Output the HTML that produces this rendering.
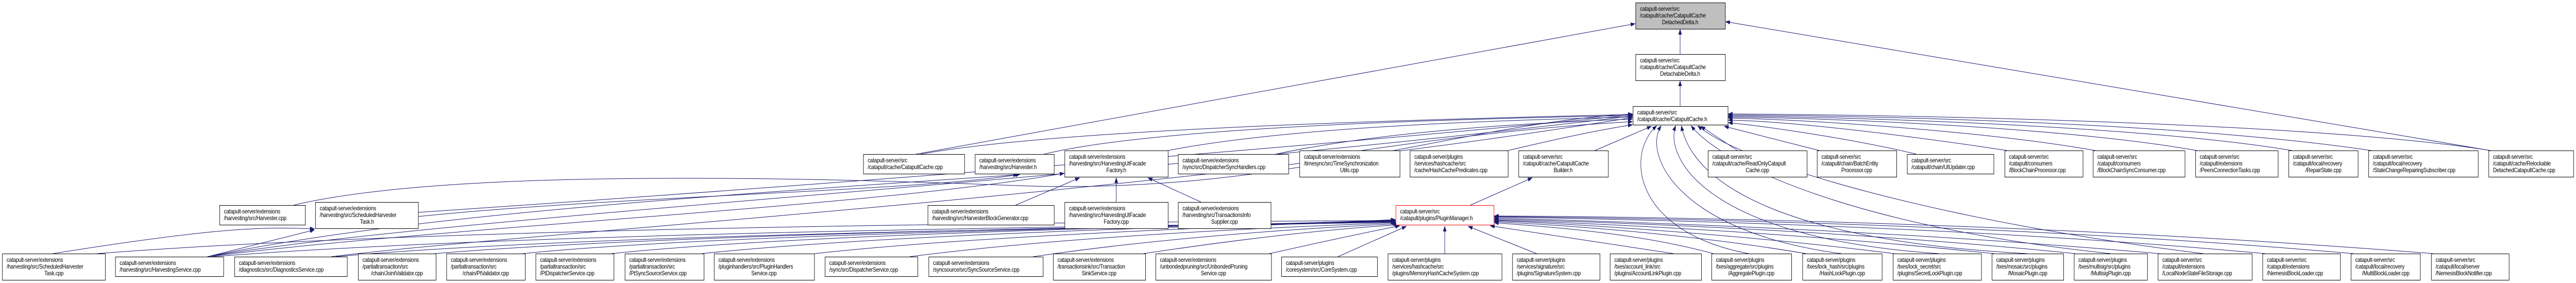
<!DOCTYPE html>
<html><head><meta charset="utf-8"><meta name="viewport" content="width=5834, initial-scale=1"><style>
html,body{margin:0;padding:0;background:#fff;width:100%;height:549px;overflow:hidden;}
svg{display:block;width:100%;height:549px;}
text{font-family:"Liberation Sans",Arial,sans-serif;font-size:11.6px;fill:#000;letter-spacing:-0.3px;}
.c{text-anchor:middle;}
rect{fill:#fff;stroke:#000;stroke-width:1;}
</style></head><body>
<svg viewBox="0 0 5834 549" preserveAspectRatio="none">
<defs><marker id="a" markerWidth="11" markerHeight="8" refX="10" refY="4" orient="auto" markerUnits="userSpaceOnUse"><path d="M0,0 L11,4 L0,8z" fill="#191970"/></marker></defs>
<g fill="none" stroke="#191970" stroke-width="1" marker-end="url(#a)">
<path d="M3805 105 L3805 57"/>
<path d="M3805 206 L3805 157"/>
<path d="M2075 299 L3703 46"/>
<path d="M5640 292 L3908 42"/>
<path d="M2085 299 C2400 250 3200 232 3697 222"/>
<path d="M2365 299 C2600 250 3200 232 3697 224"/>
<path d="M2645 292 C2900 250 3300 235 3697 227"/>
<path d="M2890 299 C3100 260 3400 240 3697 231"/>
<path d="M3084 292 C3300 265 3500 245 3697 236"/>
<path d="M3415 292 C3500 275 3600 255 3697 242"/>
<path d="M3612 292 L3740 245"/>
<path d="M3935 292 L3852 245"/>
<path d="M4120 292 L3905 245"/>
<path d="M4340 299 C4200 270 4000 245 3914 238"/>
<path d="M4545 292 C4300 260 4050 235 3914 233"/>
<path d="M4745 292 C4500 255 4100 232 3914 229"/>
<path d="M4975 292 C4700 250 4200 230 3914 227"/>
<path d="M5190 292 C4900 250 4300 228 3914 225"/>
<path d="M5370 292 C5000 245 4400 226 3914 223"/>
<path d="M5640 292 C5300 245 4500 224 3914 221"/>
<path d="M665 398 C900 350 1400 330 2300 360 C2900 380 3300 240 3697 221"/>
<path d="M947 412 C1500 380 2800 300 3697 223"/>
<path d="M470 498 C1000 420 2500 350 3697 225"/>
<path d="M750 498 C1200 450 2600 380 3697 228"/>
<path d="M3960 492 C3700 450 3680 300 3752 244"/>
<path d="M4170 492 C3800 450 3720 300 3762 244"/>
<path d="M4390 492 C3850 460 3770 300 3795 244"/>
<path d="M4590 492 C3900 460 3820 300 3808 244"/>
<path d="M4780 492 C4200 440 3900 320 3830 244"/>
<path d="M4990 492 C4400 430 3950 320 3845 244"/>
<path d="M120 492 C500 440 600 440 712 444"/>
<path d="M470 498 L712 446"/>
<path d="M947 420 C1400 380 2100 370 2310 338"/>
<path d="M470 498 C900 420 1600 380 2305 339"/>
<path d="M470 498 C1000 440 2000 400 2410 336"/>
<path d="M2300 398 L2445 345"/>
<path d="M2528 392 L2528 345"/>
<path d="M2720 392 L2600 345"/>
<path d="M3330 398 L3470 345"/>
<path d="M220 492 C1000 440 2500 430 3160 428"/>
<path d="M480 498 C1200 450 2500 440 3160 430"/>
<path d="M760 498 C1300 455 2500 442 3160 431"/>
<path d="M985 492 C1500 455 2500 440 3160 430"/>
<path d="M1185 492 C1600 455 2600 440 3160 429"/>
<path d="M1385 492 C1800 455 2600 440 3160 428"/>
<path d="M1590 492 C2000 455 2700 440 3160 427"/>
<path d="M1845 492 C2200 458 2800 440 3160 426"/>
<path d="M2060 498 C2400 460 2850 442 3162 432"/>
<path d="M2340 498 C2600 465 2900 445 3165 434"/>
<path d="M2590 492 C2800 465 3000 445 3168 436"/>
<path d="M2875 492 C3000 468 3100 450 3170 438"/>
<path d="M3030 498 L3185 439"/>
<path d="M3272 492 L3272 439"/>
<path d="M3480 492 L3325 439"/>
<path d="M3790 492 L3375 438"/>
<path d="M3880 492 C3700 450 3500 440 3384 432"/>
<path d="M4090 492 C3800 450 3500 435 3384 430"/>
<path d="M4290 492 C3900 450 3500 432 3384 428"/>
<path d="M4515 492 C4000 445 3500 430 3384 427"/>
<path d="M4700 492 C4100 440 3500 428 3384 425"/>
<path d="M4890 492 C4200 440 3500 426 3384 423"/>
<path d="M5130 492 C4400 435 3600 424 3384 421"/>
<path d="M5330 492 C4500 430 3600 422 3384 420"/>
<path d="M5510 492 C4600 430 3700 420 3384 419"/>
</g>

<rect x="3704.5" y="5.5" width="203" height="51" style="fill:#bfbfbf"/>
<text x="3714" y="21">catapult-server/src</text><text x="3714" y="34">/catapult/cache/CatapultCache</text><text class="c" x="3805" y="47">DetachedDelta.h</text>
<rect x="3704.5" y="105.5" width="203" height="51"/>
<text x="3714" y="121">catapult-server/src</text><text x="3714" y="134">/catapult/cache/CatapultCache</text><text class="c" x="3805" y="147">DetachableDelta.h</text>
<rect x="3698.5" y="206.5" width="215" height="36"/>
<text x="3708" y="222">catapult-server/src</text><text x="3708" y="235">/catapult/cache/CatapultCache.h</text>

<rect x="1955.5" y="299.5" width="229" height="38"/>
<text x="1965" y="315">catapult-server/src</text><text x="1965" y="328">/catapult/cache/CatapultCache.cpp</text>
<rect x="2208.5" y="299.5" width="179" height="38"/>
<text x="2218" y="315">catapult-server/extensions</text><text x="2218" y="328">/harvesting/src/Harvester.h</text>
<rect x="2411.5" y="292.5" width="234" height="51"/>
<text x="2421" y="308">catapult-server/extensions</text><text x="2421" y="321">/harvesting/src/HarvestingUtFacade</text><text class="c" x="2528" y="334">Factory.h</text>
<rect x="2668.5" y="299.5" width="250" height="38"/>
<text x="2678" y="315">catapult-server/extensions</text><text x="2678" y="328">/sync/src/DispatcherSyncHandlers.cpp</text>
<rect x="2943.5" y="292.5" width="227" height="51"/>
<text x="2953" y="308">catapult-server/extensions</text><text x="2953" y="321">/timesync/src/TimeSynchronization</text><text class="c" x="3056" y="334">Utils.cpp</text>
<rect x="3193.5" y="292.5" width="222" height="51"/>
<text x="3203" y="308">catapult-server/plugins</text><text x="3203" y="321">/services/hashcache/src</text><text x="3203" y="334">/cache/HashCachePredicates.cpp</text>
<rect x="3439.5" y="292.5" width="203" height="51"/>
<text x="3449" y="308">catapult-server/src</text><text x="3449" y="321">/catapult/cache/CatapultCache</text><text class="c" x="3540" y="334">Builder.h</text>
<rect x="3868.5" y="292.5" width="224" height="51"/>
<text x="3878" y="308">catapult-server/src</text><text x="3878" y="321">/catapult/cache/ReadOnlyCatapult</text><text class="c" x="3980" y="334">Cache.cpp</text>
<rect x="4115.5" y="292.5" width="180" height="51"/>
<text x="4125" y="308">catapult-server/src</text><text x="4125" y="321">/catapult/chain/BatchEntity</text><text class="c" x="4205" y="334">Processor.cpp</text>
<rect x="4319.5" y="299.5" width="196" height="38"/>
<text x="4329" y="315">catapult-server/src</text><text x="4329" y="328">/catapult/chain/UtUpdater.cpp</text>
<rect x="4540.5" y="292.5" width="177" height="51"/>
<text x="4550" y="308">catapult-server/src</text><text x="4550" y="321">/catapult/consumers</text><text x="4550" y="334">/BlockChainProcessor.cpp</text>
<rect x="4740.5" y="292.5" width="208" height="51"/>
<text x="4750" y="308">catapult-server/src</text><text x="4750" y="321">/catapult/consumers</text><text x="4750" y="334">/BlockChainSyncConsumer.cpp</text>
<rect x="4972.5" y="292.5" width="187" height="51"/>
<text x="4982" y="308">catapult-server/src</text><text x="4982" y="321">/catapult/extensions</text><text x="4982" y="334">/PeersConnectionTasks.cpp</text>
<rect x="5183.5" y="292.5" width="157" height="51"/>
<text x="5193" y="308">catapult-server/src</text><text x="5193" y="321">/catapult/local/recovery</text><text class="c" x="5262" y="334">/RepairState.cpp</text>
<rect x="5364.5" y="292.5" width="248" height="51"/>
<text x="5374" y="308">catapult-server/src</text><text x="5374" y="321">/catapult/local/recovery</text><text x="5374" y="334">/StateChangeRepairingSubscriber.cpp</text>
<rect x="5636.5" y="292.5" width="192" height="51"/>
<text x="5646" y="308">catapult-server/src</text><text x="5646" y="321">/catapult/cache/Relockable</text><text x="5646" y="334">DetachedCatapultCache.cpp</text>

<rect x="497.5" y="398.5" width="194" height="38"/>
<text x="507" y="414">catapult-server/extensions</text><text x="507" y="427">/harvesting/src/Harvester.cpp</text>
<rect x="714.5" y="392.5" width="233" height="51"/>
<text x="724" y="408">catapult-server/extensions</text><text x="724" y="421">/harvesting/src/ScheduledHarvester</text><text class="c" x="831" y="434">Task.h</text>
<rect x="2101.5" y="398.5" width="286" height="38"/>
<text x="2111" y="414">catapult-server/extensions</text><text x="2111" y="427">/harvesting/src/HarvesterBlockGenerator.cpp</text>
<rect x="2411.5" y="392.5" width="234" height="51"/>
<text x="2421" y="408">catapult-server/extensions</text><text x="2421" y="421">/harvesting/src/HarvestingUtFacade</text><text class="c" x="2528" y="434">Factory.cpp</text>
<rect x="2668.5" y="392.5" width="210" height="51"/>
<text x="2678" y="408">catapult-server/extensions</text><text x="2678" y="421">/harvesting/src/TransactionsInfo</text><text class="c" x="2773" y="434">Supplier.cpp</text>
<rect x="3161.5" y="398.5" width="222" height="38" style="stroke:#f00"/>
<text x="3171" y="414">catapult-server/src</text><text x="3171" y="427">/catapult/plugins/PluginManager.h</text>

<rect x="5.5" y="492.5" width="233" height="51"/>
<text x="15" y="508">catapult-server/extensions</text><text x="15" y="521">/harvesting/src/ScheduledHarvester</text><text class="c" x="122" y="534">Task.cpp</text>
<rect x="261.5" y="498.5" width="245" height="38"/>
<text x="271" y="514">catapult-server/extensions</text><text x="271" y="527">/harvesting/src/HarvestingService.cpp</text>
<rect x="531.5" y="498.5" width="255" height="38"/>
<text x="541" y="514">catapult-server/extensions</text><text x="541" y="527">/diagnostics/src/DiagnosticsService.cpp</text>
<rect x="811.5" y="492.5" width="176" height="51"/>
<text x="821" y="508">catapult-server/extensions</text><text x="821" y="521">/partialtransaction/src</text><text class="c" x="899" y="534">/chain/JointValidator.cpp</text>
<rect x="1011.5" y="492.5" width="178" height="51"/>
<text x="1021" y="508">catapult-server/extensions</text><text x="1021" y="521">/partialtransaction/src</text><text class="c" x="1100" y="534">/chain/PtValidator.cpp</text>
<rect x="1213.5" y="492.5" width="177" height="51"/>
<text x="1223" y="508">catapult-server/extensions</text><text x="1223" y="521">/partialtransaction/src</text><text x="1223" y="534">/PtDispatcherService.cpp</text>
<rect x="1415.5" y="492.5" width="179" height="51"/>
<text x="1425" y="508">catapult-server/extensions</text><text x="1425" y="521">/partialtransaction/src</text><text x="1425" y="534">/PtSyncSourceService.cpp</text>
<rect x="1617.5" y="492.5" width="227" height="51"/>
<text x="1627" y="508">catapult-server/extensions</text><text x="1627" y="521">/pluginhandlers/src/PluginHandlers</text><text class="c" x="1730" y="534">Service.cpp</text>
<rect x="1868.5" y="498.5" width="210" height="38"/>
<text x="1878" y="514">catapult-server/extensions</text><text x="1878" y="527">/sync/src/DispatcherService.cpp</text>
<rect x="2103.5" y="498.5" width="259" height="38"/>
<text x="2113" y="514">catapult-server/extensions</text><text x="2113" y="527">/syncsource/src/SyncSourceService.cpp</text>
<rect x="2385.5" y="492.5" width="209" height="51"/>
<text x="2395" y="508">catapult-server/extensions</text><text x="2395" y="521">/transactionsink/src/Transaction</text><text class="c" x="2489" y="534">SinkService.cpp</text>
<rect x="2617.5" y="492.5" width="262" height="51"/>
<text x="2627" y="508">catapult-server/extensions</text><text x="2627" y="521">/unbondedpruning/src/UnbondedPruning</text><text class="c" x="2748" y="534">Service.cpp</text>
<rect x="2902.5" y="498.5" width="217" height="38"/>
<text x="2912" y="514">catapult-server/plugins</text><text x="2912" y="527">/coresystem/src/CoreSystem.cpp</text>
<rect x="3143.5" y="492.5" width="258" height="51"/>
<text x="3153" y="508">catapult-server/plugins</text><text x="3153" y="521">/services/hashcache/src</text><text x="3153" y="534">/plugins/MemoryHashCacheSystem.cpp</text>
<rect x="3425.5" y="492.5" width="198" height="51"/>
<text x="3435" y="508">catapult-server/plugins</text><text x="3435" y="521">/services/signature/src</text><text x="3435" y="534">/plugins/SignatureSystem.cpp</text>
<rect x="3646.5" y="492.5" width="207" height="51"/>
<text x="3656" y="508">catapult-server/plugins</text><text x="3656" y="521">/txes/account_link/src</text><text x="3656" y="534">/plugins/AccountLinkPlugin.cpp</text>
<rect x="3876.5" y="492.5" width="181" height="51"/>
<text x="3886" y="508">catapult-server/plugins</text><text x="3886" y="521">/txes/aggregate/src/plugins</text><text class="c" x="3966" y="534">/AggregatePlugin.cpp</text>
<rect x="4082.5" y="492.5" width="180" height="51"/>
<text x="4092" y="508">catapult-server/plugins</text><text x="4092" y="521">/txes/lock_hash/src/plugins</text><text class="c" x="4172" y="534">/HashLockPlugin.cpp</text>
<rect x="4287.5" y="492.5" width="200" height="51"/>
<text x="4297" y="508">catapult-server/plugins</text><text x="4297" y="521">/txes/lock_secret/src</text><text x="4297" y="534">/plugins/SecretLockPlugin.cpp</text>
<rect x="4511.5" y="492.5" width="162" height="51"/>
<text x="4521" y="508">catapult-server/plugins</text><text x="4521" y="521">/txes/mosaic/src/plugins</text><text class="c" x="4592" y="534">/MosaicPlugin.cpp</text>
<rect x="4697.5" y="492.5" width="166" height="51"/>
<text x="4707" y="508">catapult-server/plugins</text><text x="4707" y="521">/txes/multisig/src/plugins</text><text class="c" x="4780" y="534">/MultisigPlugin.cpp</text>
<rect x="4887.5" y="492.5" width="213" height="51"/>
<text x="4897" y="508">catapult-server/src</text><text x="4897" y="521">/catapult/extensions</text><text x="4897" y="534">/LocalNodeStateFileStorage.cpp</text>
<rect x="5124.5" y="492.5" width="176" height="51"/>
<text x="5134" y="508">catapult-server/src</text><text x="5134" y="521">/catapult/extensions</text><text x="5134" y="534">/NemesisBlockLoader.cpp</text>
<rect x="5324.5" y="492.5" width="157" height="51"/>
<text x="5334" y="508">catapult-server/src</text><text x="5334" y="521">/catapult/local/recovery</text><text class="c" x="5403" y="534">/MultiBlockLoader.cpp</text>
<rect x="5506.5" y="492.5" width="176" height="51"/>
<text x="5516" y="508">catapult-server/src</text><text x="5516" y="521">/catapult/local/server</text><text x="5516" y="534">/NemesisBlockNotifier.cpp</text>
</svg>
</body></html>
